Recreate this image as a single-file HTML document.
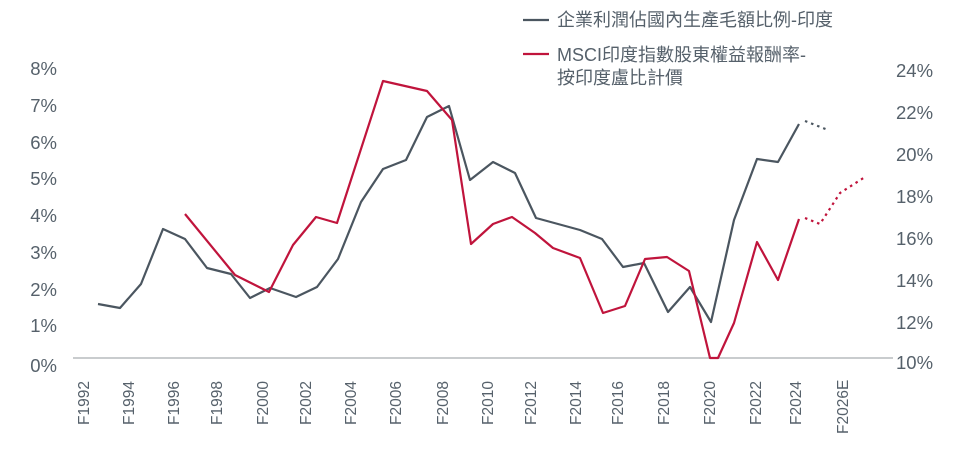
<!DOCTYPE html>
<html><head><meta charset="utf-8"><style>
body{margin:0;background:#fff;}
svg text{font-family:"Liberation Sans","Noto Sans CJK TC",sans-serif;fill:#56616b;}
</style></head><body>
<svg width="962" height="470" viewBox="0 0 962 470" xmlns="http://www.w3.org/2000/svg">
<line x1="73" y1="358" x2="893" y2="358" stroke="#a9adb1" stroke-width="1.2"/>
<g font-size="18.5" text-anchor="end">
<text x="57" y="75">8%</text><text x="57" y="112">7%</text><text x="57" y="149">6%</text><text x="57" y="185">5%</text><text x="57" y="222">4%</text><text x="57" y="259">3%</text><text x="57" y="296">2%</text><text x="57" y="332">1%</text><text x="57" y="372">0%</text>
</g>
<g font-size="18.5">
<text x="896" y="77">24%</text><text x="896" y="119">22%</text><text x="896" y="161">20%</text><text x="896" y="203">18%</text><text x="896" y="245">16%</text><text x="896" y="287">14%</text><text x="896" y="329">12%</text><text x="896" y="369">10%</text>
</g>
<g font-size="15.5">
<text transform="translate(89,425) rotate(-90)">F1992</text>
<text transform="translate(134,425) rotate(-90)">F1994</text>
<text transform="translate(179,425) rotate(-90)">F1996</text>
<text transform="translate(222,425) rotate(-90)">F1998</text>
<text transform="translate(268,425) rotate(-90)">F2000</text>
<text transform="translate(311,425) rotate(-90)">F2002</text>
<text transform="translate(356,425) rotate(-90)">F2004</text>
<text transform="translate(401,425) rotate(-90)">F2006</text>
<text transform="translate(448,425) rotate(-90)">F2008</text>
<text transform="translate(493,425) rotate(-90)">F2010</text>
<text transform="translate(536,425) rotate(-90)">F2012</text>
<text transform="translate(581,425) rotate(-90)">F2014</text>
<text transform="translate(623,425) rotate(-90)">F2016</text>
<text transform="translate(669,425) rotate(-90)">F2018</text>
<text transform="translate(715,425) rotate(-90)">F2020</text>
<text transform="translate(761,425) rotate(-90)">F2022</text>
<text transform="translate(801,425) rotate(-90)">F2024</text>
<text transform="translate(848,434) rotate(-90)">F2026E</text>
</g>
<polyline fill="none" stroke="#4b5660" stroke-width="2.2" stroke-linejoin="round" points="98,304 120,308 141,284 163,229 185,239 207,268 231,274 250,298 270,288 296,297 317,287 338,259 361,202 383,169 406,160 427,117 449,106 470,180 493,162 515,173 536,218 580,230 602,239 623,267 644,263 668,312 690,287 711,322 734,220 757,159 778,162 799,124"/>
<polyline fill="none" stroke="#4b5660" stroke-width="2.2" stroke-dasharray="2.5,4" points="805,121 828,130"/>
<polyline fill="none" stroke="#c0143c" stroke-width="2.2" stroke-linejoin="round" points="185,214 235,275 269,292 293,245 316,217 337,223 383,81 427,91 452,120 471,244 493,224 512,217 535,233 553,248 580,258 603,313 625,306 645,259 667,257 689,271 710,358 718,358 734,323 757,242 778,280 799,219"/>
<polyline fill="none" stroke="#c0143c" stroke-width="2.2" stroke-dasharray="2.5,4" points="805,218 820,224 840,193 865,177"/>
<line x1="523" y1="20" x2="549" y2="20" stroke="#4b5660" stroke-width="2.2"/>
<line x1="523" y1="54" x2="549" y2="54" stroke="#c0143c" stroke-width="2.2"/>
<g font-size="18">
<text x="557" y="26">企業利潤佔國內生產毛額比例-印度</text>
<text x="557" y="61">MSCI印度指數股東權益報酬率-</text>
<text x="557" y="84">按印度盧比計價</text>
</g>
</svg>
</body></html>
